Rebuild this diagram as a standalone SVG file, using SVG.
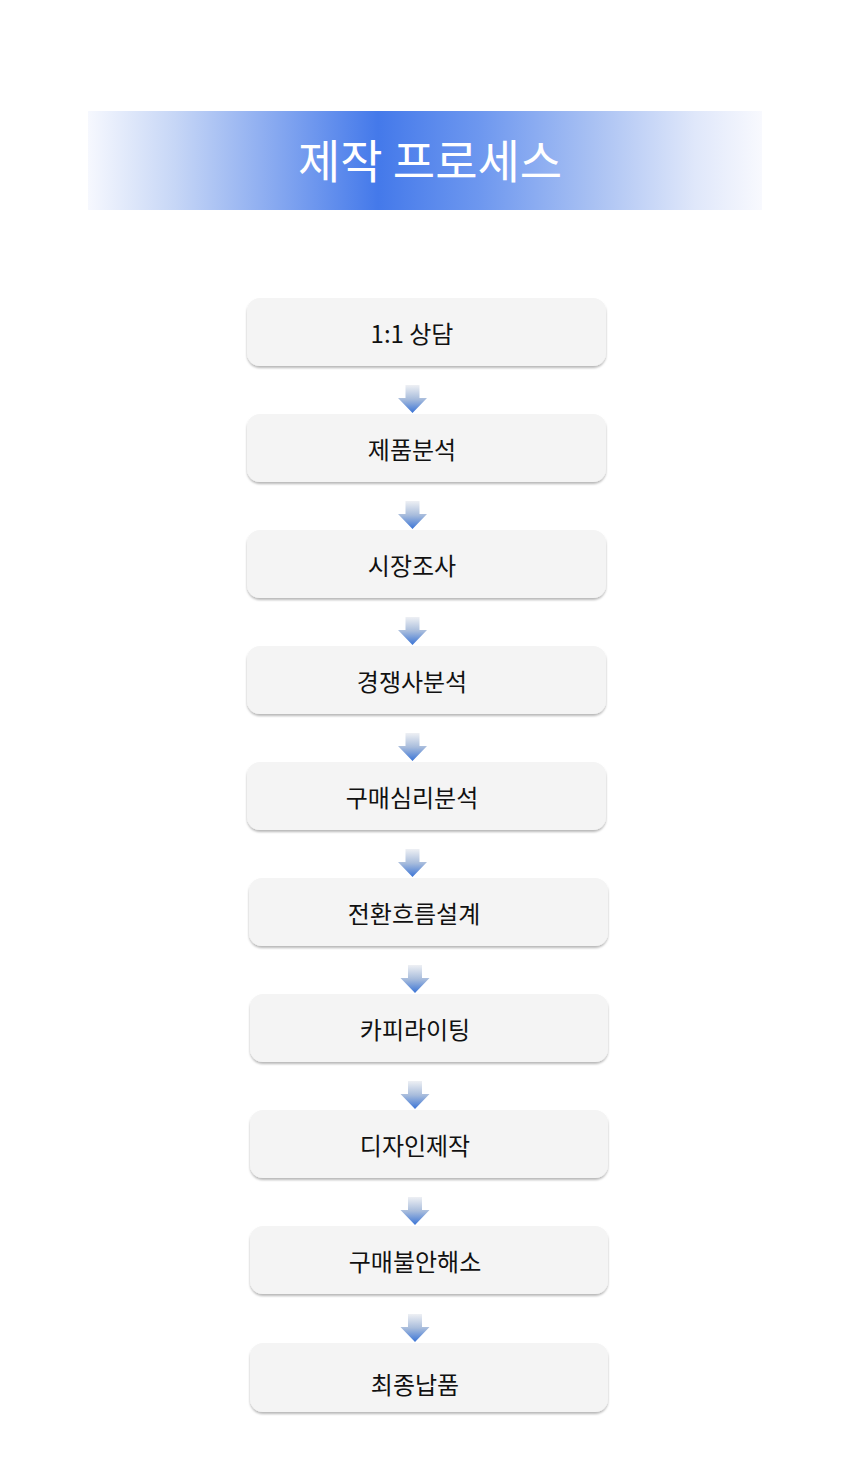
<svg xmlns="http://www.w3.org/2000/svg" width="860" height="1480" viewBox="0 0 860 1480">
<defs>
<linearGradient id="hdr" x1="88" y1="0" x2="762" y2="0" gradientUnits="userSpaceOnUse">
<stop offset="0" stop-color="#f6f8fe"/>
<stop offset="0.13" stop-color="#c6d6f6"/>
<stop offset="0.28" stop-color="#86a8f0"/>
<stop offset="0.43" stop-color="#4479ea"/>
<stop offset="0.58" stop-color="#6d97ef"/>
<stop offset="0.75" stop-color="#a9c1f3"/>
<stop offset="0.9" stop-color="#dfe7fa"/>
<stop offset="1" stop-color="#f8f9fe"/>
</linearGradient>
<linearGradient id="arr" x1="0" y1="0" x2="0" y2="1">
<stop offset="0" stop-color="#eef0f4"/>
<stop offset="0.5" stop-color="#a9bddc"/>
<stop offset="1" stop-color="#3a74d6"/>
</linearGradient>
<filter id="sh" x="-5%" y="-20%" width="110%" height="150%">
<feDropShadow dx="0" dy="2" stdDeviation="1.2" flood-color="#000" flood-opacity="0.28"/>
</filter>
<symbol id="arrow" viewBox="0 0 29 28" overflow="visible">
<path d="M7.5 0 H21.5 V13 H29 L14.5 28 L0 13 H7.5 Z" fill="url(#arr)"/>
</symbol>
</defs>
<style>
.box{fill:#f4f4f4;filter:url(#sh)}
.lbl{font-family:"Noto Sans CJK KR","Noto Sans",sans-serif;font-size:24px;fill:#111;text-anchor:middle;dominant-baseline:central}
.ttl{font-family:"Noto Sans CJK KR","Noto Sans",sans-serif;font-size:46px;font-weight:400;fill:#fff;text-anchor:middle;dominant-baseline:central}
</style>
<rect width="860" height="1480" fill="#fff"/>
<g id="header">
<rect x="88" y="111" width="674" height="99" fill="url(#hdr)"/>
<text class="ttl" x="430" y="158">제작 프로세스</text>
</g>
<g id="connectors">
<use href="#arrow" x="398" y="385" width="29" height="28"/>
<use href="#arrow" x="398" y="501" width="29" height="28"/>
<use href="#arrow" x="398" y="617" width="29" height="28"/>
<use href="#arrow" x="398" y="733" width="29" height="28"/>
<use href="#arrow" x="398" y="849" width="29" height="28"/>
<use href="#arrow" x="400.5" y="965" width="29" height="28"/>
<use href="#arrow" x="400.5" y="1081" width="29" height="28"/>
<use href="#arrow" x="400.5" y="1197" width="29" height="28"/>
<use href="#arrow" x="400.5" y="1314" width="29" height="28"/>
</g>
<g id="n1"><rect class="box" x="247" y="298" width="359" height="68" rx="13"/><text class="lbl" x="412" y="332">1:1 상담</text></g>
<g id="n2"><rect class="box" x="247" y="414" width="359" height="68" rx="13"/><text class="lbl" x="412" y="448">제품분석</text></g>
<g id="n3"><rect class="box" x="247" y="530" width="359" height="68" rx="13"/><text class="lbl" x="412" y="564">시장조사</text></g>
<g id="n4"><rect class="box" x="247" y="646" width="359" height="68" rx="13"/><text class="lbl" x="412" y="680">경쟁사분석</text></g>
<g id="n5"><rect class="box" x="247" y="762" width="359" height="68" rx="13"/><text class="lbl" x="412" y="796">구매심리분석</text></g>
<g id="n6"><rect class="box" x="249" y="878" width="359" height="68" rx="13"/><text class="lbl" x="414" y="912">전환흐름설계</text></g>
<g id="n7"><rect class="box" x="250" y="994" width="358" height="68" rx="13"/><text class="lbl" x="415" y="1028">카피라이팅</text></g>
<g id="n8"><rect class="box" x="250" y="1110" width="358" height="68" rx="13"/><text class="lbl" x="415" y="1144">디자인제작</text></g>
<g id="n9"><rect class="box" x="250" y="1226" width="358" height="68" rx="13"/><text class="lbl" x="415" y="1260">구매불안해소</text></g>
<g id="n10"><rect class="box" x="250" y="1343" width="358" height="69" rx="13"/><text class="lbl" x="415" y="1383">최종납품</text></g>
</svg>
